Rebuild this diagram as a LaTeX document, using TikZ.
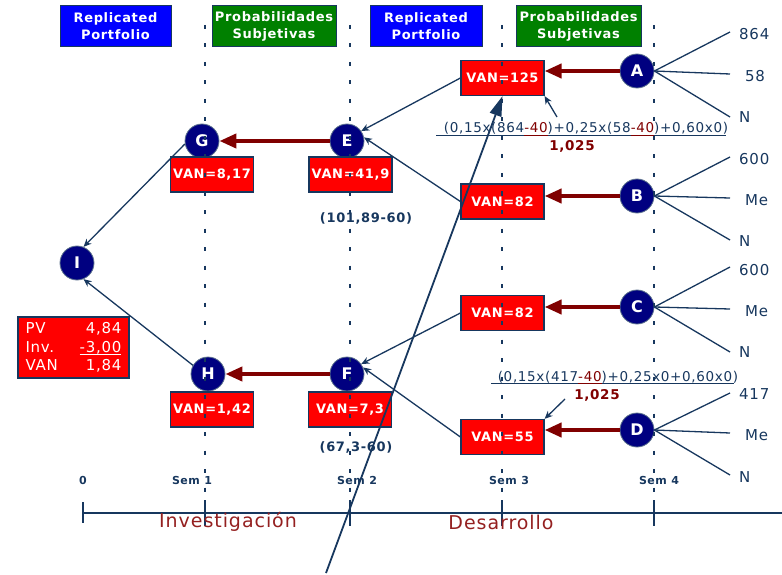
\documentclass[tikz,border=0pt]{standalone}
\usepackage{fontspec}
\setmainfont{DejaVu Sans}[LetterSpace=5]
\usetikzlibrary{arrows.meta}
\definecolor{linec}{HTML}{17375E}
\definecolor{navyc}{HTML}{000080}
\definecolor{dred}{HTML}{800000}
\definecolor{txtred}{HTML}{942020}
\definecolor{hblue}{HTML}{0000FF}
\definecolor{hgreen}{HTML}{008000}
\definecolor{boxred}{HTML}{FF0000}
\newcommand\fsz[2]{\fontsize{#1}{#2}\selectfont}
\newcommand\redul[2]{{\color{#1}\setbox0\hbox{#2}\rlap{\vrule height -2.3pt depth 3.3pt width \wd0}\box0}}
\begin{document}
\begin{tikzpicture}[x=1pt,y=-1pt,
  hdr/.style={draw=linec, line width=1pt, minimum height=41pt, align=center, text=white, inner sep=0pt, font=\fsz{13}{17}\bfseries},
  hdrblue/.style={hdr, fill=hblue},
  hdrgreen/.style={hdr, fill=hgreen},
  circ/.style={circle, fill=navyc, draw=linec!70, line width=0.8pt, minimum size=34pt, inner sep=0pt, text=white, font=\fsz{16}{18}\bfseries},
  vanbox/.style={rectangle, fill=boxred, draw=linec, line width=1.2pt, minimum width=83pt, minimum height=35pt, inner sep=0pt, text=white, font=\fsz{13}{15}\bfseries},
  thickarr/.style={draw=dred, line width=4pt, -{Triangle[length=17pt,width=14pt]}},
  thinarr/.style={draw=linec, line width=1.3pt, -{Stealth[length=8pt,width=7pt]}},
  branch/.style={draw=linec, line width=1.3pt},
  blab/.style={text=linec, anchor=west, inner sep=0pt, font=\fsz{15}{17}},
  semlab/.style={text=linec, inner sep=0pt, font=\fsz{11}{13}\bfseries},
  dotv/.style={draw=linec, line width=2pt, dash pattern=on 4pt off 14.5pt},
  tick/.style={draw=linec, line width=2.2pt}
]
\useasboundingbox (0,0) rectangle (782,575);

% header boxes
\node[hdrblue, minimum width=111pt] (rp1) at (115.5,26.5) {Replicated\\Portfolio};
\node[hdrgreen, minimum width=124pt] (ps1) at (274,26.5) {Probabilidades\\Subjetivas};
\node[hdrblue, minimum width=112pt] (rp2) at (426,26.5) {Replicated\\Portfolio};
\node[hdrgreen, minimum width=125pt] (ps2) at (578.5,26.5) {Probabilidades\\Subjetivas};

% timeline
\coordinate (tl0) at (83,513);
\coordinate (tlE) at (782,513);
\draw[draw=linec, line width=2.5pt] (tl0) -- (tlE);
\coordinate (t0a) at (83,502); \coordinate (t0b) at (83,523);
\draw[draw=linec, line width=1.5pt] (t0a) -- (t0b);
\foreach \xx/\nm in {205/t1,350/t2,502/t3,654/t4}{
  \coordinate (\nm a) at (\xx,500); \coordinate (\nm b) at (\xx,526);
  \draw[tick] (\nm a) -- (\nm b);
}
\node[semlab] (s0) at (83,480) {0};
\node[semlab] (s1) at (192,480) {Sem 1};
\node[semlab] (s2) at (357,480) {Sem 2};
\node[semlab] (s3) at (509,480) {Sem 3};
\node[semlab] (s4) at (659,480) {Sem 4};
\node[text=txtred, font=\fsz{19}{21}, inner sep=0pt] (inv) at (228,522) {Investigación};
\node[text=txtred, font=\fsz{19}{21}, inner sep=0pt] (des) at (501,522) {Desarrollo};

% circles
\node[circ] (A) at (637,71) {A};
\node[circ] (B) at (637,196) {B};
\node[circ] (C) at (637,307) {C};
\node[circ] (D) at (637,430) {D};
\node[circ] (E) at (347,141) {E};
\node[circ] (F) at (347,374) {F};
\node[circ] (G) at (202,141) {G};
\node[circ] (H) at (208,374) {H};
\node[circ] (I) at (77,263) {I};

% VAN boxes
\node[vanbox] (vA) at (502.5,78) {VAN=125};
\node[vanbox] (vB) at (502.5,201.5) {VAN=82};
\node[vanbox] (vC) at (502.5,313) {VAN=82};
\node[vanbox] (vD) at (502.5,437) {VAN=55};
\node[vanbox] (vG) at (212,174.5) {VAN=8,17};
\node[vanbox] (vE) at (350.5,174.5) {VAN=41,9};
\node[vanbox] (vH) at (212,409.5) {VAN=1,42};
\node[vanbox] (vF) at (350,409.5) {VAN=7,3};

% PV box
\node[rectangle, fill=boxred, draw=linec, line width=1.2pt, minimum width=111pt, minimum height=61pt,
      text=white, font=\fsz{15}{18.5}, text width=96pt, align=left, inner sep=0pt] (pv) at (73.5,347.5)
  {PV\hfill 4,84\\Inv.\hfill\redul{white}{-3,00}\\VAN\hfill 1,84};

% thick arrows
\draw[thickarr] (A.west) -- (A.west -| vA.east);
\draw[thickarr] (B.west) -- (B.west -| vB.east);
\draw[thickarr] (C.west) -- (C.west -| vC.east);
\draw[thickarr] (D.west) -- (D.west -| vD.east);
\draw[thickarr] (E.west) -- (G.east);
\draw[thickarr] (F.west) -- (H.east);

% thin arrows
\draw[thinarr] (vA.west) -- (E.35);
\draw[thinarr] (vB.west) -- (E.12);
\draw[thinarr] (vC.west) -- (F.35);
\draw[thinarr] (vD.west) -- (F.22);
\draw[thinarr] (G.190) -- (I.68);
\draw[thinarr] (H.150) -- (I.-68);

% branches
\foreach \nd/\ya/\yb/\yc in {A/32/74/117, B/157/198/240, C/267/309/352, D/393/433/475}{
  \coordinate (\nd1) at (730,\ya);
  \coordinate (\nd2) at (730,\yb);
  \coordinate (\nd3) at (730,\yc);
  \draw[branch] (\nd.east) -- (\nd1);
  \draw[branch] (\nd.east) -- (\nd2);
  \draw[branch] (\nd.east) -- (\nd3);
}
\node[blab] (lA1) at (739,34) {864};
\node[blab] (lA2) at (745,76) {58};
\node[blab] (lA3) at (739,117) {N};
\node[blab] (lB1) at (739,159) {600};
\node[blab] (lB2) at (745,200) {Me};
\node[blab] (lB3) at (739,241) {N};
\node[blab] (lC1) at (739,270) {600};
\node[blab] (lC2) at (745,311) {Me};
\node[blab] (lC3) at (739,352) {N};
\node[blab] (lD1) at (739,394) {417};
\node[blab] (lD2) at (745,435) {Me};
\node[blab] (lD3) at (739,477) {N};

% formulas
\coordinate (bar1a) at (436,135.8);
\coordinate (bar1b) at (726,135.8);
\draw[draw=linec, line width=1.1pt] (bar1a) -- (bar1b);
\node[anchor=base, text=linec, inner sep=0pt, font=\fsz{13.5}{15}] (f1) at (586,133)
  {(0,15x(864\redul{dred}{-40})+0,25x(58\redul{dred}{-40})+0,60x0)};
\node[text=dred, inner sep=0pt, font=\fsz{13.5}{15}\bfseries] (d1) at (572,146) {1,025};

\coordinate (bar2a) at (491,383.8);
\coordinate (bar2b) at (734,383.8);
\draw[draw=linec, line width=1.1pt] (bar2a) -- (bar2b);
\node[anchor=base, text=linec, inner sep=0pt, font=\fsz{13.5}{15}] (f2) at (618,381)
  {(0,15x(417\redul{dred}{-40})+0,25x0+0,60x0)};
\node[text=dred, inner sep=0pt, font=\fsz{13.5}{15}\bfseries] (d2) at (597,395) {1,025};

\coordinate (fa1) at (557,117);
\draw[thinarr] (fa1) -- (vA.south east);
\coordinate (fa2) at (565,399);
\draw[thinarr] (fa2) -- (vD.north east);

\node[text=linec, inner sep=0pt, font=\fsz{13}{15}\bfseries] (n1) at (366,218) {(101,89-60)};
\node[text=linec, inner sep=0pt, font=\fsz{13}{15}\bfseries] (n2) at (356,447) {(67,3-60)};

% long arrow
\coordinate (ls) at (326,573);
\draw[draw=linec, line width=1.8pt, -{Triangle[length=20pt,width=12pt]}] (ls) -- (vA.south);

% dotted verticals
\foreach \xx/\nm in {205/d1v,350/d2v,502/d3v,654/d4v}{
  \coordinate (\nm a) at (\xx,25); \coordinate (\nm b) at (\xx,500);
  \draw[dotv] (\nm a) -- (\nm b);
}
\end{tikzpicture}
\end{document}
